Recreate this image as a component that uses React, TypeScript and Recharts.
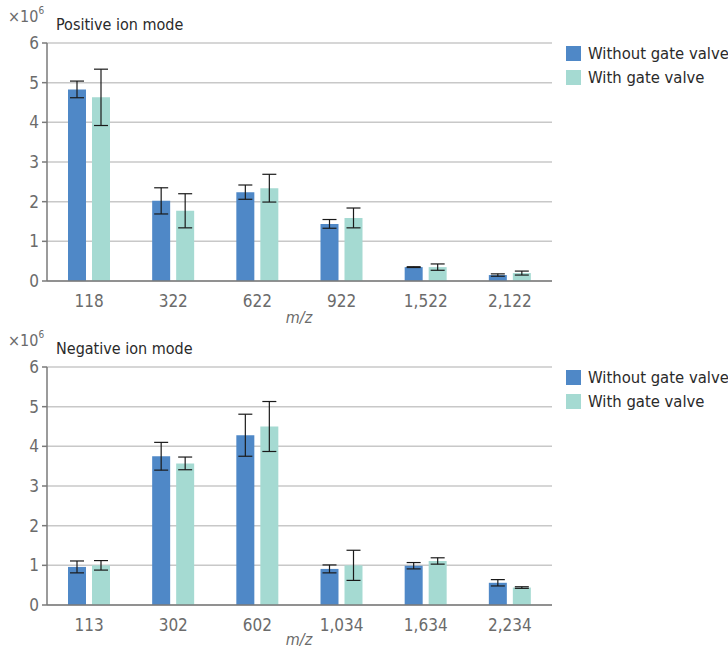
import React from 'react';
import { BarChart, Bar, XAxis, YAxis, CartesianGrid, ErrorBar } from 'recharts';

const posCategories = ['118', '322', '622', '922', '1,522', '2,122'];
const posWithout = [4.83, 2.02, 2.24, 1.44, 0.35, 0.15];
const posWithoutErr = [0.21, 0.33, 0.18, 0.11, 0.01, 0.03];
const posWith = [4.63, 1.77, 2.34, 1.59, 0.35, 0.2];
const posWithErr = [0.71, 0.43, 0.35, 0.25, 0.08, 0.05];

const negCategories = ['113', '302', '602', '1,034', '1,634', '2,234'];
const negWithout = [0.96, 3.75, 4.28, 0.91, 0.99, 0.56];
const negWithoutErr = [0.15, 0.35, 0.53, 0.1, 0.08, 0.08];
const negWith = [1.0, 3.57, 4.5, 1.0, 1.11, 0.44];
const negWithErr = [0.12, 0.16, 0.63, 0.38, 0.08, 0.02];

const yTicks = [0, 1, 2, 3, 4, 5, 6];
const seriesNames = ['Without gate valve', 'With gate valve'];
const BLUE = '#4f88c7';
const TEAL = '#a5dad2';
const FONT = "'Liberation Sans Narrow', 'DejaVu Sans Condensed', 'Roboto', sans-serif";

function build(cats: string[], a: number[], ae: number[], b: number[], be: number[]) {
  return cats.map((c, i) => ({ cat: c, without: a[i], withoutErr: ae[i], with: b[i], withErr: be[i] }));
}

const posData = build(posCategories, posWithout, posWithoutErr, posWith, posWithErr);
const negData = build(negCategories, negWithout, negWithoutErr, negWith, negWithErr);

const LegendBox = () => (
  <div style={{ position: 'absolute', left: 566, top: 41, fontFamily: FONT, fontSize: 16.5, color: '#2a2a2a' }}>
    {seriesNames.map((n, i) => (
      <div key={n} style={{ display: 'flex', alignItems: 'center', height: 24 }}>
        <div style={{ width: 15, height: 15, background: i === 0 ? BLUE : TEAL, marginRight: 7 }} />
        <span style={{ whiteSpace: 'nowrap' }}>{n}</span>
      </div>
    ))}
  </div>
);

function Panel({ data, title, top, height, labelTop }: { data: any[]; title: string; top: number; height: number; labelTop: number }) {
  return (
    <div style={{ position: 'absolute', left: 0, top, width: 728, height }}>
      <BarChart
        width={728}
        height={height}
        data={data}
        margin={{ top: 43, right: 176, left: 0, bottom: 0 }}
        barSize={18}
        barGap={6}
      >
        <CartesianGrid vertical={false} stroke="#c8c8c8" strokeWidth={1.5} />
        <XAxis
          dataKey="cat"
          height={height - 43 - 238}
          tickLine={false}
          axisLine={{ stroke: '#7a7a7a', strokeWidth: 1.5 }}
          tick={{ fill: '#6b6b6b', fontSize: 17, fontFamily: FONT }}
          tickMargin={8}
        />
        <YAxis
          width={47}
          domain={[0, 6]}
          ticks={yTicks}
          interval={0}
          tickSize={5}
          tickMargin={3}
          tickLine={{ stroke: '#7a7a7a', strokeWidth: 1.5 }}
          axisLine={{ stroke: '#7a7a7a', strokeWidth: 1.5 }}
          tick={{ fill: '#6b6b6b', fontSize: 17, fontFamily: FONT }}
        />
        <Bar dataKey="without" name={seriesNames[0]} fill={BLUE} isAnimationActive={false}>
          <ErrorBar dataKey="withoutErr" width={7} stroke="#1a1a1a" strokeWidth={1.2} />
        </Bar>
        <Bar dataKey="with" name={seriesNames[1]} fill={TEAL} isAnimationActive={false}>
          <ErrorBar dataKey="withErr" width={7} stroke="#1a1a1a" strokeWidth={1.2} />
        </Bar>
      </BarChart>
      <div style={{ position: 'absolute', left: 8, top: 7, fontFamily: FONT, fontSize: 16, color: '#6b6b6b' }}>
        ×10<sup style={{ fontSize: 10, verticalAlign: 'top', position: 'relative', top: -2 }}>6</sup>
      </div>
      <div style={{ position: 'absolute', left: 56, top: 15, fontFamily: FONT, fontSize: 16, color: '#2a2a2a' }}>
        {title}
      </div>
      <div
        style={{
          position: 'absolute', left: 259, width: 80, top: labelTop, textAlign: 'center',
          fontFamily: FONT, fontSize: 16, lineHeight: '16px', fontStyle: 'italic', color: '#6b6b6b',
        }}
      >
        m/z
      </div>
      <LegendBox />
    </div>
  );
}

export default function App() {
  return (
    <div style={{ position: 'absolute', left: 0, top: 0, width: 728, height: 649, background: '#fff' }}>
      <Panel data={posData} title="Positive ion mode" top={0} height={324} labelTop={310} />
      <Panel data={negData} title="Negative ion mode" top={324} height={325} labelTop={308} />
    </div>
  );
}
